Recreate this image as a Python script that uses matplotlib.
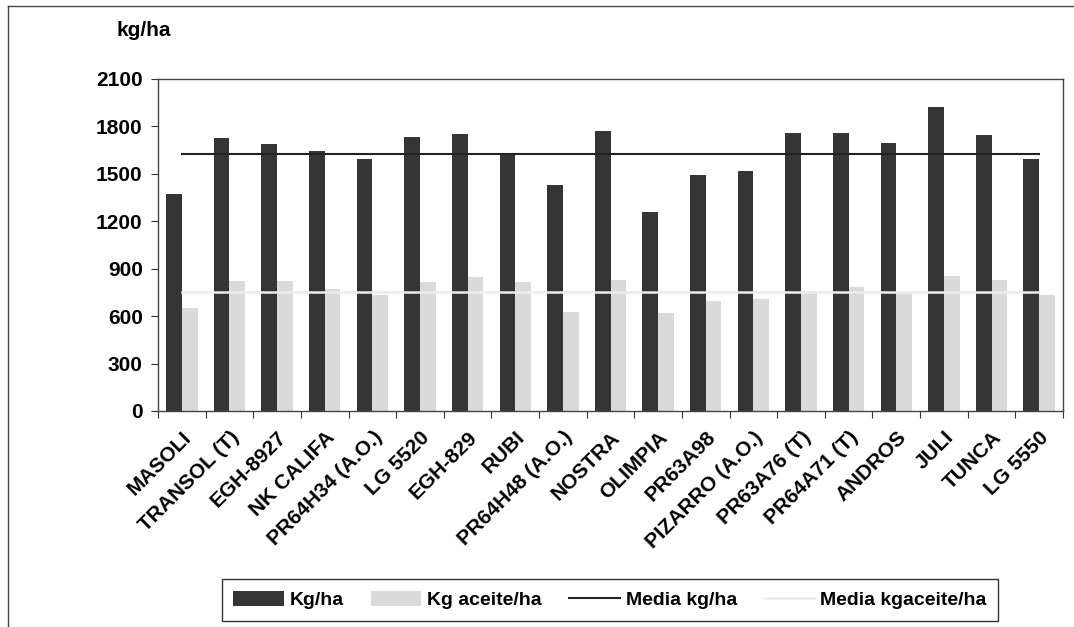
import matplotlib
matplotlib.use("Agg")
import matplotlib.pyplot as plt
import matplotlib.transforms as mtransforms
import numpy as np

plt.rcParams['font.family'] = ['Liberation Sans', 'DejaVu Sans']
plt.rcParams['font.weight'] = 'bold'

# hybrids
variedades = ['MASOLI', 'TRANSOL (T)', 'EGH-8927', 'NK CALIFA', 'PR64H34 (A.O.)',
              'LG 5520', 'EGH-829', 'RUBI', 'PR64H48 (A.O.)', 'NOSTRA', 'OLIMPIA',
              'PR63A98', 'PIZARRO (A.O.)', 'PR63A76 (T)', 'PR64A71 (T)', 'ANDROS',
              'JULI', 'TUNCA', 'LG 5550']
kg_ha = [1375, 1726, 1688, 1646, 1597, 1730, 1753, 1631, 1428, 1768, 1259,
         1492, 1517, 1758, 1758, 1696, 1926, 1747, 1593]
kg_aceite = [649, 822, 822, 773, 731, 814, 847, 814, 627, 828, 617,
             697, 710, 760, 782, 745, 854, 828, 731]
media_kg = 1628
media_aceite = 750

yticks = [0, 300, 600, 900, 1200, 1500, 1800, 2100]

fig = plt.figure(figsize=(10.74, 6.27), dpi=100)
ax = fig.add_axes([158/1074, 1 - 411/627, (1063 - 158)/1074, (411 - 79)/627])

x = np.arange(len(variedades))
w = 0.33
b1 = ax.bar(x - w/2, kg_ha, w, color='#353535', label='Kg/ha', zorder=2)
b2 = ax.bar(x + w/2, kg_aceite, w, color='#dadada', label='Kg aceite/ha', zorder=2)
l1, = ax.plot(x, [media_kg]*len(x), color='#222222', lw=1.5, label='Media kg/ha', zorder=3)
l2, = ax.plot(x, [media_aceite]*len(x), color='#ececec', lw=1.8, label='Media kgaceite/ha', zorder=3)

ax.set_xlim(-0.5, len(x) - 0.5)
ax.set_ylim(0, 2100)
ax.set_yticks(yticks)
ax.set_yticklabels([str(t) for t in yticks], fontsize=15, fontweight='bold')

# ticks between categories, labels at centers
ax.set_xticks(np.arange(len(x) + 1) - 0.5)
ax.set_xticklabels([])
ax.set_xticks(x, minor=True)
ax.set_xticklabels(variedades, minor=True, rotation=45, ha='right',
                   rotation_mode='anchor', fontsize=15, fontweight='bold')
shift = mtransforms.ScaledTranslation(-0.13, 0, fig.dpi_scale_trans)
for lab in ax.get_xticklabels(minor=True):
    lab.set_transform(lab.get_transform() + shift)
ax.tick_params(axis='x', which='minor', length=0, pad=12)
ax.tick_params(axis='x', which='major', length=5, direction='out', color='#333333')
ax.tick_params(axis='y', length=5, direction='out', color='#333333', pad=6)

for s in ['left', 'bottom', 'top', 'right']:
    ax.spines[s].set_color('#444444')
    ax.spines[s].set_linewidth(1)

fig.text(117/1074, 1 - 30/627, 'kg/ha', fontsize=15, fontweight='bold', va='center')

# outer frame (left and top)
fig.add_artist(plt.Line2D([8/1074, 8/1074], [0, 1 - 6/627], color='#444444', lw=1))
fig.add_artist(plt.Line2D([8/1074, 1], [1 - 6/627, 1 - 6/627], color='#444444', lw=1))

leg = fig.legend([b1, b2, l1, l2], ['Kg/ha', 'Kg aceite/ha', 'Media kg/ha', 'Media kgaceite/ha'],
                 loc='center', bbox_to_anchor=(610/1074, 1 - 600/627), ncol=4,
                 frameon=True, fancybox=False, edgecolor='black', fontsize=14,
                 handlelength=2.6, handleheight=0.8, columnspacing=1.4,
                 borderpad=0.6, handletextpad=0.3)
leg.get_frame().set_linewidth(1)
for t in leg.get_texts():
    t.set_fontweight('bold')

fig.savefig('out.png', dpi=100)
